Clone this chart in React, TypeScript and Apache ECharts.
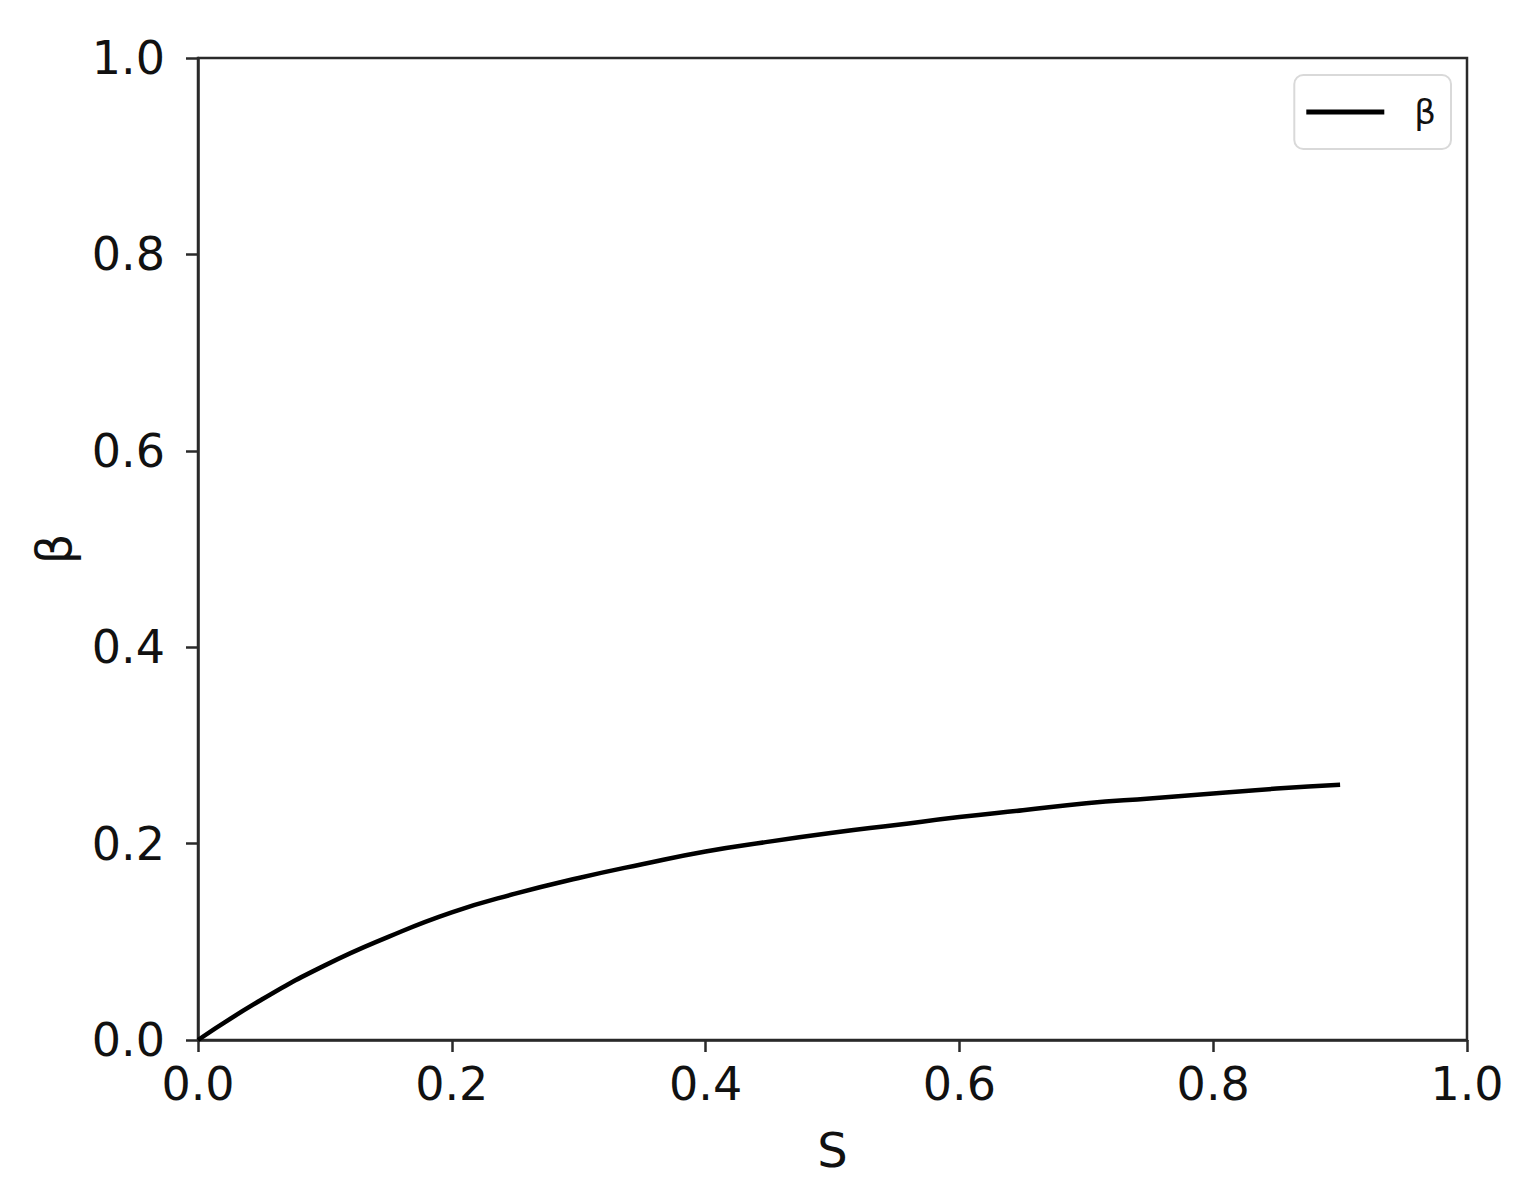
import React, { useEffect, useRef } from "react";
import * as echarts from "echarts";

const sValues = [0, 0.05, 0.1, 0.15, 0.2, 0.25, 0.3, 0.35, 0.4, 0.45, 0.5, 0.55, 0.6, 0.65, 0.7, 0.75, 0.8, 0.85, 0.9];
const betaValues = [0, 0.041, 0.076, 0.105, 0.13, 0.149, 0.165, 0.179, 0.192, 0.202, 0.211, 0.219, 0.227, 0.234, 0.241, 0.246, 0.251, 0.256, 0.26];
const seriesName = "β";
const xName = "S";
const yName = "β";

export default function App() {
  const ref = useRef<HTMLDivElement>(null);
  useEffect(() => {
    document.body.style.margin = "0";
    const chart = echarts.init(ref.current!, null, { renderer: "svg" });
    const font = "DejaVu Sans";
    const axisCommon = {
      type: "value",
      min: 0,
      max: 1,
      interval: 0.2,
      splitLine: { show: false },
      axisLine: { show: true, onZero: false, lineStyle: { color: "#2a2a2a", width: 2.5 } },
      axisTick: { show: true, inside: false, length: 12, lineStyle: { color: "#2a2a2a", width: 2.5 } },
      axisLabel: { color: "#111", fontSize: 46, fontFamily: font, formatter: (v: number) => v.toFixed(1) },
      nameTextStyle: { color: "#111", fontSize: 48, fontFamily: font },
      nameLocation: "middle",
    };
    chart.setOption({
      animation: false,
      backgroundColor: "#fff",
      grid: { left: 198, right: 60, top: 58, bottom: 151, show: true, borderColor: "#2a2a2a", borderWidth: 2.5, backgroundColor: "transparent" },
      legend: {
        right: 76,
        top: 75,
        data: [{ name: seriesName, icon: "rect", itemStyle: { color: "#000" } }],
        itemWidth: 78,
        itemHeight: 5,
        itemGap: 10,
        padding: [20, 15, 20, 12],
        borderColor: "#d9d9d9",
        borderWidth: 2,
        borderRadius: 9,
        textStyle: { fontSize: 34, fontFamily: font, color: "#111", padding: [0, 0, 0, 25] },
      },
      xAxis: {
        ...axisCommon,
        name: xName,
        nameGap: 86,
        axisLabel: { ...axisCommon.axisLabel, margin: 21 },
      },
      yAxis: {
        ...axisCommon,
        name: yName,
        nameGap: 120,
        nameRotate: 90,
        axisLabel: { ...axisCommon.axisLabel, margin: 33 },
      },
      series: [
        {
          name: seriesName,
          type: "line",
          data: sValues.map((s, i) => [s, betaValues[i]]),
          symbol: "none",
          smooth: true,
          lineStyle: { color: "#000", width: 4.5 },
          itemStyle: { color: "#000" },
        },
      ],
    });
    return () => chart.dispose();
  }, []);
  return <div ref={ref} style={{ width: 1527, height: 1191 }} />;
}
